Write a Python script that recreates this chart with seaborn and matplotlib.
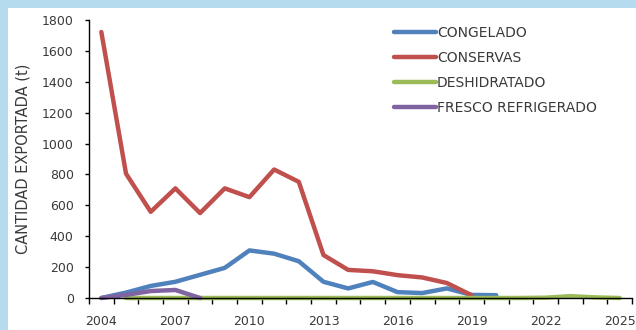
import matplotlib
matplotlib.use("Agg")
import matplotlib.pyplot as plt
from matplotlib.patches import Rectangle
import pandas as pd
import seaborn as sns

SERIES = ["CONGELADO", "CONSERVAS", "DESHIDRATADO", "FRESCO REFRIGERADO"]
COLORS = ["#4F81BD", "#C0504D", "#9BBB59", "#8064A2"]

congelado_years = list(range(2004, 2021))
congelado = [0, 35, 78, 105, 150, 195, 308, 287, 238, 105, 62, 104, 38, 32, 62, 20, 18]

conservas_years = list(range(2004, 2020))
conservas = [1722, 805, 558, 710, 550, 710, 653, 832, 752, 278, 182, 173, 148, 133, 97, 18]

deshidratado_years = list(range(2005, 2026))
deshidratado = [0, 0, 0, 0, 0, 0, 0, 0, 0, 0, 0, 0, 0, 0, 0, 0, 0, 2, 12, 4, 0]

fresco_years = list(range(2004, 2009))
fresco = [0, 20, 45, 52, 0]

YLABEL = "CANTIDAD EXPORTADA (t)"
XTICKS = list(range(2004, 2026, 3))
YTICKS = list(range(0, 1801, 200))


def build_frame() -> pd.DataFrame:
    parts = []
    for name, years, vals in zip(
        SERIES,
        [congelado_years, conservas_years, deshidratado_years, fresco_years],
        [congelado, conservas, deshidratado, fresco],
    ):
        parts.append(pd.DataFrame({"anio": years, "valor": vals, "serie": name}))
    return pd.concat(parts, ignore_index=True)


def main() -> None:
    df = build_frame()

    sns.set_style("ticks")
    plt.rcParams["font.family"] = ["DejaVu Sans"]

    fig = plt.figure(figsize=(6.36, 3.30), dpi=100, facecolor="#b4dcee")
    # white card, leaving a blue strip on the left and at the top
    fig.patches.append(Rectangle((8 / 636, 0), 1, (330 - 8) / 330,
                                 transform=fig.transFigure, facecolor="white",
                                 edgecolor="none", zorder=-1))
    ax = fig.add_axes([89 / 636, 32 / 330, 543 / 636, 278 / 330])
    ax.set_facecolor("none")
    ax.set_zorder(1)

    sns.lineplot(data=df, x="anio", y="valor", hue="serie", hue_order=SERIES,
                 palette=COLORS, linewidth=3.2, errorbar=None, ax=ax)
    for line in ax.lines:
        line.set_clip_on(False)
        line.set_solid_capstyle("round")
        line.set_solid_joinstyle("round")

    ax.set_xlim(2003.5, 2025.5)
    ax.set_ylim(0, 1800)
    ax.set_xticks(XTICKS)
    ax.set_xticks([y + 0.5 for y in range(2003, 2026)], minor=True)
    ax.set_yticks(YTICKS)
    ax.tick_params(axis="x", which="major", length=0, pad=12,
                   labelsize=9, labelcolor="#3a3a3a")
    ax.tick_params(axis="x", which="minor", length=4, width=1, color="black",
                   direction="out")
    ax.tick_params(axis="y", length=3, width=1, color="black", pad=8,
                   labelsize=9, labelcolor="#3a3a3a")
    sns.despine(ax=ax)
    for side in ("left", "bottom"):
        ax.spines[side].set_color("black")
        ax.spines[side].set_linewidth(1)

    ax.set_xlabel("")
    ax.set_ylabel(YLABEL, fontsize=10.5, color="#3a3a3a", va="center")
    ax.yaxis.set_label_coords(-0.1215, 0.5)

    handles, labels = ax.get_legend_handles_labels()
    for h in handles:
        h.set_linewidth(3.2)
    ax.legend(handles, labels, loc="upper left",
              bbox_to_anchor=(394 / 636, (330 - 26) / 330),
              bbox_transform=fig.transFigure, frameon=False, fontsize=10,
              handlelength=3.0, handletextpad=0.1, labelspacing=0.78,
              borderpad=0, borderaxespad=0, labelcolor="#3a3a3a")

    fig.savefig("out.png", dpi=100, facecolor=fig.get_facecolor())
    plt.close(fig)


if __name__ == "__main__":
    main()
